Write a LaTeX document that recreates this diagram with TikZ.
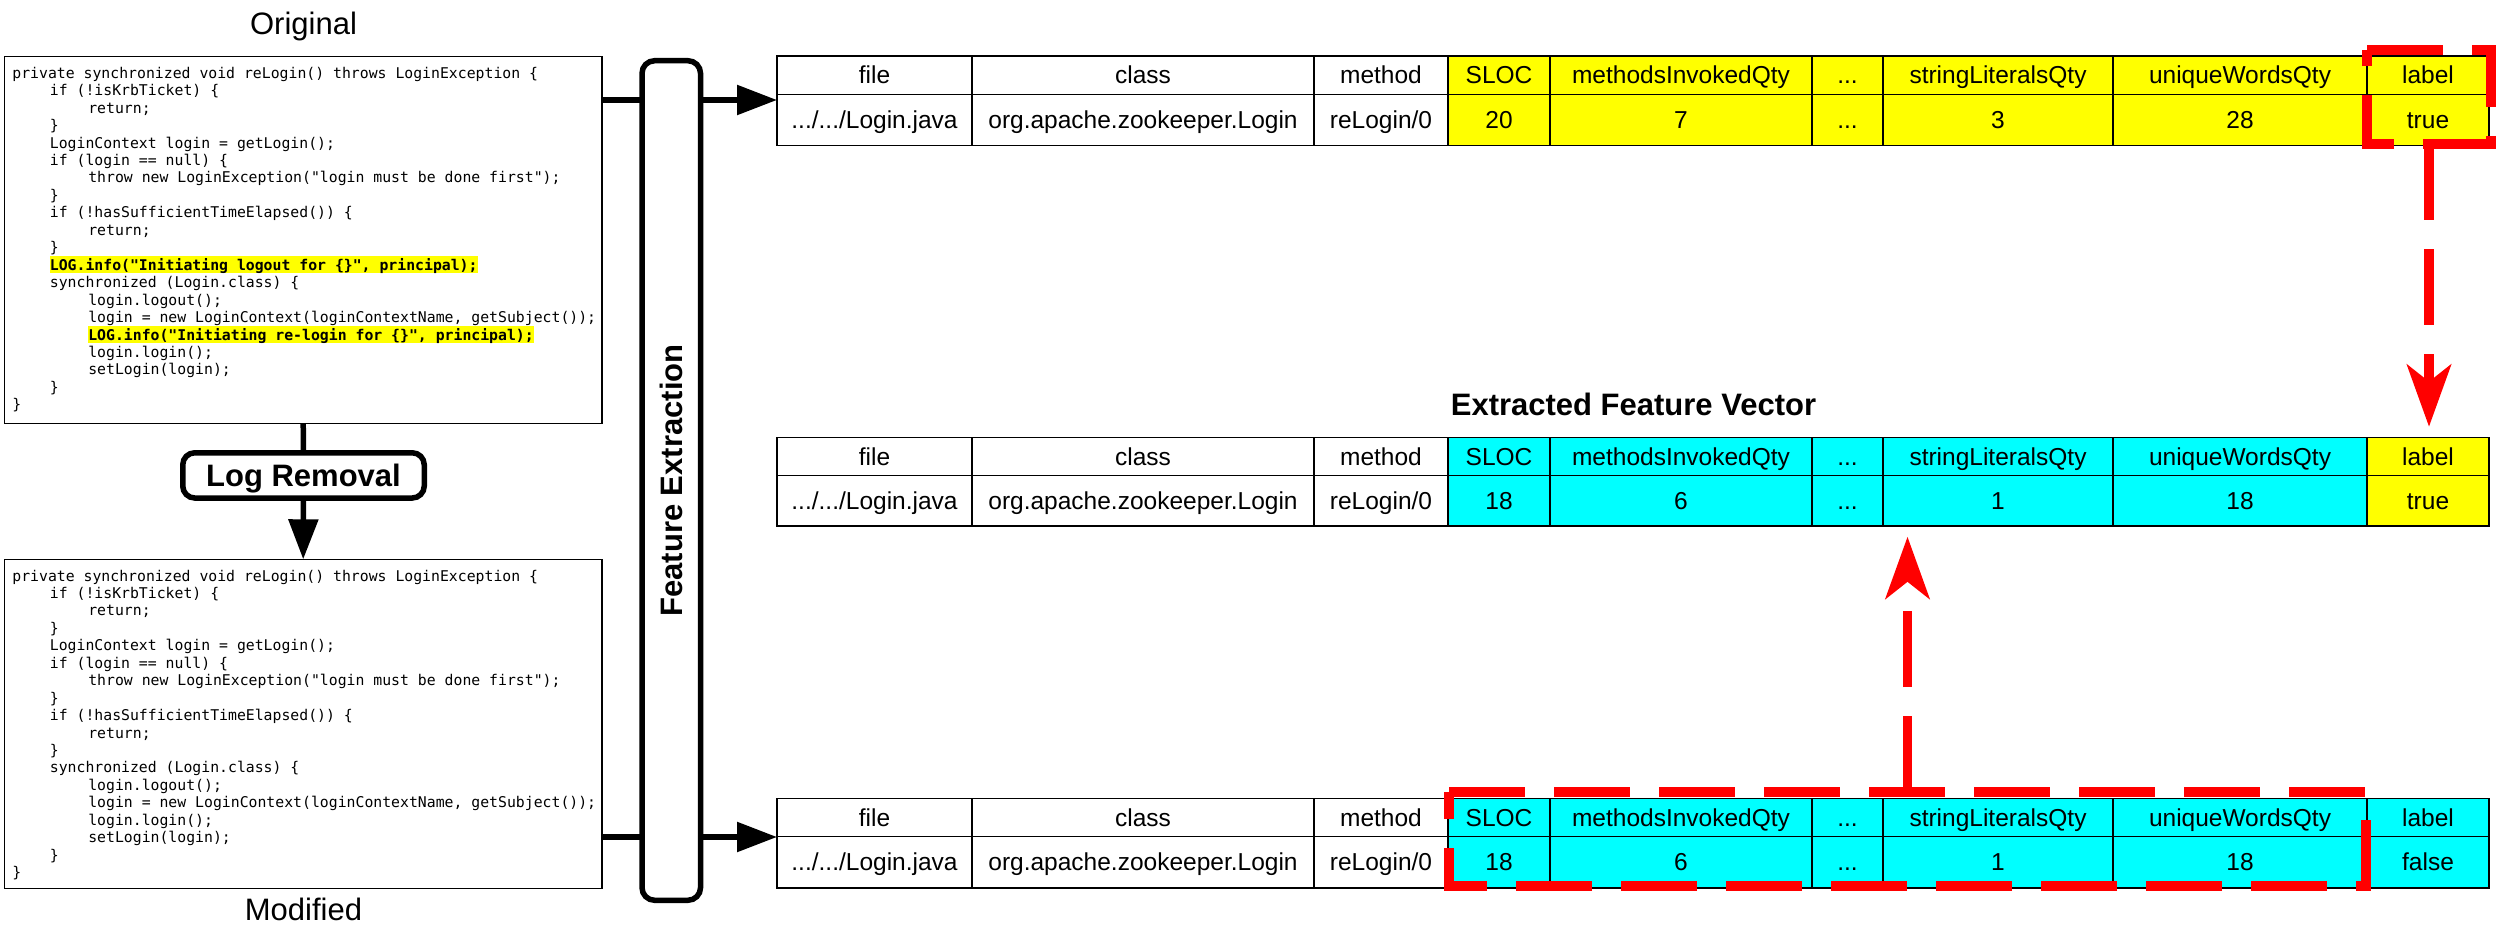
\documentclass[tikz,border=0pt]{standalone}
\usepackage{fontspec}
\setmainfont{Liberation Sans}
\setmonofont{DejaVu Sans Mono}
\usetikzlibrary{arrows.meta}

\definecolor{hlyellow}{RGB}{255,255,0}
\definecolor{featcyan}{RGB}{0,255,255}
\definecolor{markred}{RGB}{255,0,0}

% highlighted (logging) statement
\newcommand\hl[1]{{\setlength\fboxsep{0pt}\colorbox{hlyellow}{\rule[-0.8pt]{0pt}{6.4pt}\bfseries #1}}}
% one line of source code: name, x, baseline, text
\newcommand\cl[4]{\node[codeline] (#1) at (#2,#3) {#4};}
% one table cell: name, x1, x2, fill, text (rows taken from \tblTop/\tblBot)
\newcommand\tc[5]{%
  \pgfmathsetmacro\cellW{(#3-#2)*0.4}%
  \pgfmathsetmacro\cellH{(\tblBot-\tblTop)*0.4}%
  \node[tcell, fill=#4, minimum width=\cellW pt, minimum height=\cellH pt] (#1) at ({(#2+#3)/2},{(\tblTop+\tblBot)/2}) {#5};}
% one full table row
\newcommand\trow[9]{%
  \tc{\tblPre1}{777}{972}{white}{#1}%
  \tc{\tblPre2}{972}{1314}{white}{#2}%
  \tc{\tblPre3}{1314}{1448}{white}{#3}%
  \tc{\tblPre4}{1448}{1550}{\tblFillA}{#4}%
  \tc{\tblPre5}{1550}{1812}{\tblFillA}{#5}%
  \tc{\tblPre6}{1812}{1883}{\tblFillA}{#6}%
  \tc{\tblPre7}{1883}{2113}{\tblFillA}{#7}%
  \tc{\tblPre8}{2113}{2367}{\tblFillA}{#8}%
  \tc{\tblPre9}{2367}{2489}{\tblFillB}{#9}}

\begin{document}
\begin{tikzpicture}[x=0.4pt,y=-0.4pt,
  codebox/.style={draw=black, line width=0.6pt, fill=white, inner sep=0pt, outer sep=0pt},
  codeline/.style={anchor=base west, inner sep=0pt, font=\ttfamily\fontsize{5.92}{7}\selectfont},
  title/.style={anchor=base, inner sep=0pt, font=\fontsize{12.4}{14}\selectfont},
  stage/.style={draw=black, line width=2.2pt, rounded corners=4.8pt, inner sep=0pt, outer sep=0pt,
    font=\bfseries\fontsize{12.4}{14}\selectfont, text height=8.9pt, text depth=0pt},
  conn/.style={line width=2.2pt, draw=black},
  flow/.style={conn, -{Triangle[length=16pt, width=11.6pt]}},
  tcell/.style={draw=black, line width=0.5pt, inner sep=0pt, outer sep=0pt,
    font=\fontsize{9.8}{11}\selectfont, text height=7pt, text depth=0pt},
  markbox/.style={draw=none, inner sep=0pt, outer sep=0pt},
  markline/.style={draw=markred, line width=3.75pt, dash pattern=on 30.4pt off 11.6pt},
  markarrow/.style={markline, -{Stealth[length=24.8pt, width=17.6pt, inset=6.8pt]}},
]
\useasboundingbox (0,0) rectangle (2500,926);

% ---------- source code, before and after log removal ----------
\node[title] (origtitle) at (303.5,35) {Original};
\node[title] (modtitle) at (303.5,920) {Modified};

\node[codebox, minimum width=239.1pt, minimum height=146.6pt] (orig) at (303.2,240) {};
\node[codebox, minimum width=239.1pt, minimum height=131.6pt] (mod) at (303.2,723.8) {};

\cl{o1}{11.9}{78.3}{private synchronized void reLogin() throws LoginException \{}
\cl{o2}{49.4}{95.75}{if (!isKrbTicket) \{}
\cl{o3}{87.8}{113.2}{return;}
\cl{o4}{49.4}{130.65}{\}}
\cl{o5}{49.4}{148.1}{LoginContext login = getLogin();}
\cl{o6}{49.4}{165.55}{if (login == null) \{}
\cl{o7}{87.8}{183.0}{throw new LoginException("login must be done first");}
\cl{o8}{49.4}{200.45}{\}}
\cl{o9}{49.4}{217.9}{if (!hasSufficientTimeElapsed()) \{}
\cl{o10}{87.8}{235.35}{return;}
\cl{o11}{49.4}{252.8}{\}}
\cl{o12}{49.4}{270.25}{\hl{LOG.info("Initiating logout for \{\}", principal);}}
\cl{o13}{49.4}{287.7}{synchronized (Login.class) \{}
\cl{o14}{87.8}{305.15}{login.logout();}
\cl{o15}{87.8}{322.6}{login = new LoginContext(loginContextName, getSubject());}
\cl{o16}{87.8}{340.05}{\hl{LOG.info("Initiating re-login for \{\}", principal);}}
\cl{o17}{87.8}{357.5}{login.login();}
\cl{o18}{87.8}{374.95}{setLogin(login);}
\cl{o19}{49.4}{392.4}{\}}
\cl{o20}{11.9}{409.85}{\}}

\cl{m1}{11.9}{581}{private synchronized void reLogin() throws LoginException \{}
\cl{m2}{49.4}{598.45}{if (!isKrbTicket) \{}
\cl{m3}{87.8}{615.9}{return;}
\cl{m4}{49.4}{633.35}{\}}
\cl{m5}{49.4}{650.8}{LoginContext login = getLogin();}
\cl{m6}{49.4}{668.25}{if (login == null) \{}
\cl{m7}{87.8}{685.7}{throw new LoginException("login must be done first");}
\cl{m8}{49.4}{703.15}{\}}
\cl{m9}{49.4}{720.6}{if (!hasSufficientTimeElapsed()) \{}
\cl{m10}{87.8}{738.05}{return;}
\cl{m11}{49.4}{755.5}{\}}
\cl{m12}{49.4}{772.95}{synchronized (Login.class) \{}
\cl{m13}{87.8}{790.4}{login.logout();}
\cl{m14}{87.8}{807.85}{login = new LoginContext(loginContextName, getSubject());}
\cl{m15}{87.8}{825.3}{login.login();}
\cl{m16}{87.8}{842.75}{setLogin(login);}
\cl{m17}{49.4}{860.2}{\}}
\cl{m18}{11.9}{877.65}{\}}

% ---------- processing stages ----------
\node[stage, minimum width=96.6pt, minimum height=18.1pt] (logrem) at (303.5,475.4) {Log Removal};
\node[stage, rounded corners=5pt, rotate=90, minimum width=335.8pt, minimum height=23.4pt] (fe) at (671.25,480.5) {Feature Extraction};

% ---------- feature tables ----------
% original method
\def\tblFillA{hlyellow}\def\tblFillB{hlyellow}
\def\tblTop{56}\def\tblBot{94.3}\def\tblPre{T1h}
\trow{file}{class}{method}{SLOC}{methodsInvokedQty}{...}{stringLiteralsQty}{uniqueWordsQty}{label}
\def\tblTop{94.3}\def\tblBot{145.3}\def\tblPre{T1d}
\trow{.../.../Login.java}{org.apache.zookeeper.Login}{reLogin/0}{20}{7}{...}{3}{28}{true}

% extracted feature vector
\node[title, font=\bfseries\fontsize{12.4}{14}\selectfont] (evtitle) at (1633.5,415) {Extracted Feature Vector};
\def\tblFillA{featcyan}\def\tblFillB{hlyellow}
\def\tblTop{437.7}\def\tblBot{475.3}\def\tblPre{T2h}
\trow{file}{class}{method}{SLOC}{methodsInvokedQty}{...}{stringLiteralsQty}{uniqueWordsQty}{label}
\def\tblTop{475.3}\def\tblBot{526}\def\tblPre{T2d}
\trow{.../.../Login.java}{org.apache.zookeeper.Login}{reLogin/0}{18}{6}{...}{1}{18}{true}

% modified method
\def\tblFillA{featcyan}\def\tblFillB{featcyan}
\def\tblTop{798.7}\def\tblBot{836.3}\def\tblPre{T3h}
\trow{file}{class}{method}{SLOC}{methodsInvokedQty}{...}{stringLiteralsQty}{uniqueWordsQty}{label}
\def\tblTop{836.3}\def\tblBot{888}\def\tblPre{T3d}
\trow{.../.../Login.java}{org.apache.zookeeper.Login}{reLogin/0}{18}{6}{...}{1}{18}{false}

% ---------- black connectors ----------
\coordinate (ya) at (0,100);
\coordinate (yb) at (0,837);
\draw[conn] (orig.south) -- (logrem.north);
\draw[flow] (logrem.south) -- (mod.north);
\draw[conn] (orig.east |- ya) -- (fe.north |- ya);
\draw[conn] (mod.east |- yb) -- (fe.north |- yb);
\draw[flow] (fe.south |- ya) -- (T1h1.west |- ya);
\draw[flow] (fe.south |- yb) -- (T3h1.west |- yb);

% ---------- red markers ----------
\node[markbox, minimum width=49.6pt, minimum height=37.6pt] (selA) at (2429,97) {};
\node[markbox, minimum width=366.8pt, minimum height=37.6pt] (selB) at (1907.5,839) {};
\draw[markline] (selA.north west) -- (selA.north east) -- (selA.south east) -- (selA.south west) -- cycle;
\draw[markline] (selB.north west) -- (selB.north east) -- (selB.south east) -- (selB.south west) -- cycle;
\draw[markarrow, shorten >=4.4pt] (selA.south) -- (selA.south |- T2h9.north);
\draw[markarrow, shorten >=4.3pt] (selB.north) -- (selB.north |- T2d7.south);
\end{tikzpicture}
\end{document}
